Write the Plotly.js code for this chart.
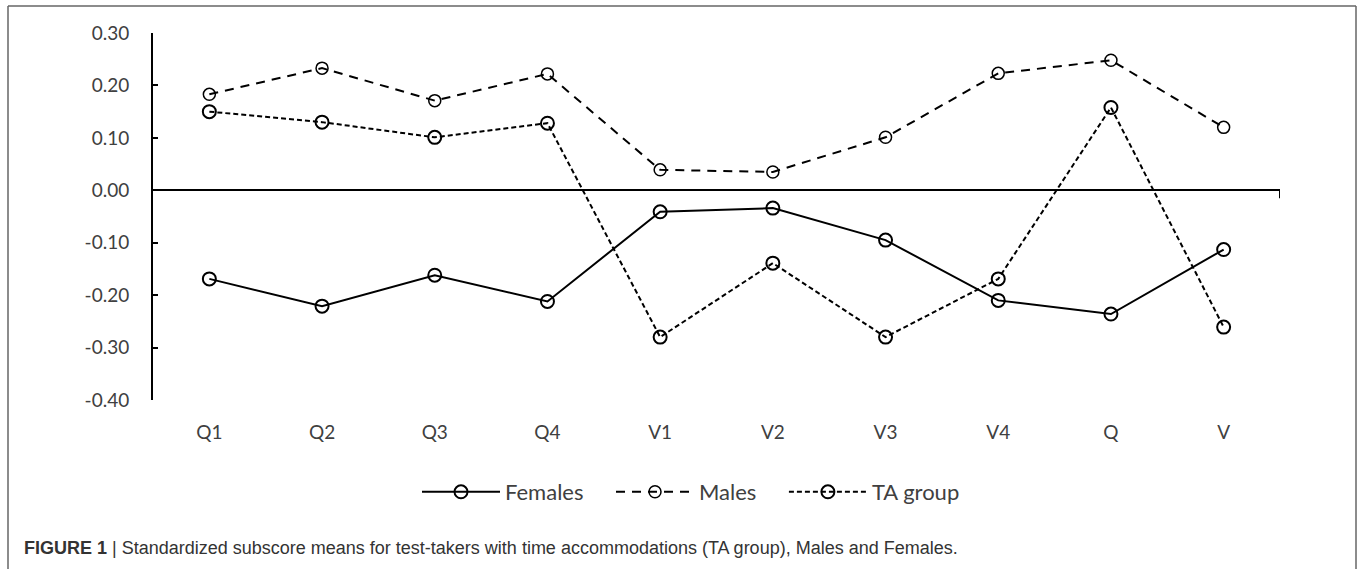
<!DOCTYPE html>
<html>
<head>
<meta charset="utf-8">
<script src="https://cdn.plot.ly/plotly-3.0.1.min.js"></script>
<style>html,body{margin:0;padding:0;background:#fff;}#chart{width:1363px;height:569px;}</style>
</head>
<body>
<div id="chart"></div>
<script>
const categories = ["Q1","Q2","Q3","Q4","V1","V2","V3","V4","Q","V"];
const females = [-0.169,-0.221,-0.162,-0.212,-0.041,-0.034,-0.095,-0.210,-0.236,-0.113];
const males   = [0.183,0.233,0.171,0.222,0.039,0.035,0.101,0.223,0.248,0.120];
const taGroup = [0.150,0.130,0.101,0.128,-0.280,-0.139,-0.280,-0.169,0.158,-0.261];
const yTicks = [0.30,0.20,0.10,0.00,-0.10,-0.20,-0.30,-0.40];
const seriesNames = ["Females","Males","TA group"];

const tickFont = {family:"Lato, 'Open Sans', sans-serif", size:19, color:"#404040"};
const pad = "\u00a0\u00a0\u00a0\u00a0";

const traces = [
  {x:categories, y:females, name:seriesNames[0] + pad, type:"scatter", mode:"lines+markers",
   line:{color:"#000", width:2},
   marker:{symbol:"circle-open", size:13, color:"#000", line:{width:2}}},
  {x:categories, y:males, name:seriesNames[1] + pad, type:"scatter", mode:"lines+markers",
   line:{color:"#000", width:2, dash:"9px,7px"},
   marker:{symbol:"circle-open", size:12, color:"#000", line:{width:1.5}}},
  {x:categories, y:taGroup, name:seriesNames[2], type:"scatter", mode:"lines+markers",
   line:{color:"#000", width:2, dash:"5px,3px"},
   marker:{symbol:"circle-open", size:13, color:"#000", line:{width:2}}}
];

const L = 153, R = 1280, T = 33, B = 400;
const pw = R - L, ph = B - T;
const px = v => (v - L) / pw;
const py = v => (B - v) / ph;

const layout = {
  width:1363, height:569,
  margin:{l:L, r:1363-R, t:T, b:569-B},
  paper_bgcolor:"#fff", plot_bgcolor:"#fff",
  showlegend:true,
  legend:{orientation:"h", x:px(417), xanchor:"left", y:py(492), yanchor:"middle",
          font:{family:"Lato, 'Open Sans', sans-serif", size:22, color:"#404040"},
          itemwidth:78, traceorder:"normal", bgcolor:"rgba(0,0,0,0)"},
  xaxis:{type:"category", range:[-0.5,9.5], showgrid:false, zeroline:false, showline:false,
         ticks:"", tickfont:tickFont, ticklabelstandoff:19, fixedrange:true},
  yaxis:{range:[-0.4,0.3], tickvals:yTicks, ticktext:yTicks.map(v=>v.toFixed(2)),
         showgrid:false, zeroline:true, zerolinecolor:"#000", zerolinewidth:2,
         showline:true, linecolor:"#000", linewidth:2, ticks:"inside", ticklen:5, tickwidth:2,
         tickcolor:"#000", tickfont:tickFont, ticklabelstandoff:18, fixedrange:true},
  shapes:[
    {type:"line", xref:"x", yref:"y", x0:9.5, x1:9.5, y0:0, y1:-0.015, line:{color:"#000", width:2}},
    {type:"line", xref:"paper", yref:"paper", x0:px(8), x1:px(8), y0:py(6), y1:py(575), line:{color:"#666", width:1.5}},
    {type:"line", xref:"paper", yref:"paper", x0:px(1356), x1:px(1356), y0:py(6), y1:py(575), line:{color:"#666", width:1.5}},
    {type:"line", xref:"paper", yref:"paper", x0:px(8), x1:px(1356), y0:py(6), y1:py(6), line:{color:"#666", width:1.5}}
  ],
  annotations:[
    {xref:"paper", yref:"paper", x:px(22), y:py(548), xanchor:"left", yanchor:"middle", showarrow:false,
     text:"<b>FIGURE 1</b> | Standardized subscore means for test-takers with time accommodations (TA group), Males and Females.",
     font:{family:"'Liberation Sans', Arial, sans-serif", size:18, color:"#333"}}
  ]
};

Plotly.newPlot("chart", traces, layout, {displayModeBar:false, staticPlot:true});
</script>
</body>
</html>
